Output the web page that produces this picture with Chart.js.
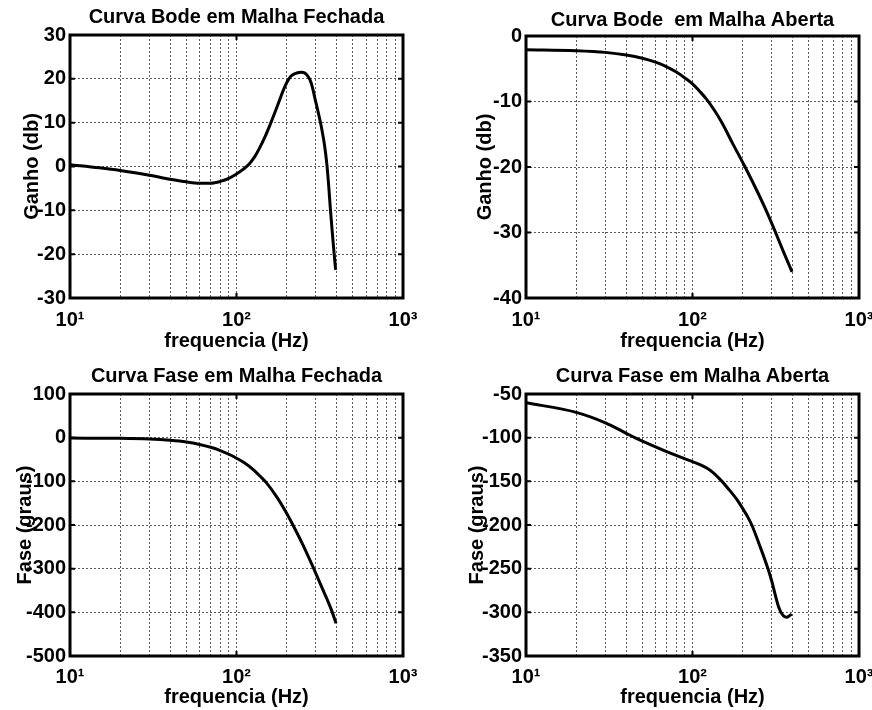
<!DOCTYPE html>
<html>
<head>
<meta charset="utf-8">
<script src="https://cdn.jsdelivr.net/npm/chart.js@4.4.1/dist/chart.umd.min.js"></script>
<style>
  html, body { margin: 0; padding: 0; background: #fff; }
  #wrap { position: relative; width: 872px; height: 710px; overflow: hidden; background: #fff; }
  canvas { position: absolute; }
</style>
</head>
<body>
<div id="wrap">
  <canvas id="ganhoFechada" width="436" height="355" style="left:0;top:0"></canvas>
  <canvas id="ganhoAberta" width="436" height="355" style="left:436px;top:0"></canvas>
  <canvas id="faseFechada" width="436" height="355" style="left:0;top:355px"></canvas>
  <canvas id="faseAberta" width="436" height="355" style="left:436px;top:355px"></canvas>
</div>
<script>
// Frequency grid (Hz) shared by all four plots, and the decade labels
const FREQ_TICKS = [10, 20, 30, 40, 50, 60, 70, 80, 90, 100, 200, 300, 400, 500, 600, 700, 800, 900, 1000];
const DECADE_VALUES = [10, 100, 1000];
const DECADE_TEXT = ['10¹', '10²', '10³'];

// Closed-loop gain (dB)
const FREQ_GANHO_MF = [10, 15, 20, 30, 40, 50, 60, 70, 80, 90, 100, 110, 120, 129, 138, 148, 159, 170, 182, 192, 202, 212, 225, 237, 246, 256, 266, 276, 286, 296, 312, 325, 338, 349, 358, 366, 376, 386, 394];
const GANHO_MF = [0.4, -0.3, -0.9, -2.0, -2.9, -3.5, -3.8, -3.8, -3.4, -2.7, -1.7, -0.6, 0.7, 2.3, 4.3, 6.7, 9.5, 12.3, 15.3, 17.6, 19.4, 20.6, 21.2, 21.45, 21.5, 21.35, 20.8, 19.8, 18.0, 15.5, 11.8, 8.6, 4.8, 0.5, -4.5, -9.5, -15, -20, -23.6];
const TICKS_GANHO_MF = [-30, -20, -10, 0, 10, 20, 30];

// Open-loop gain (dB)
const FREQ_GANHO_MA = [10, 20, 30, 40, 50, 60, 70, 80, 90, 100, 110, 121, 135, 150, 175, 207, 250, 288, 313, 350, 396];
const GANHO_MA = [-2.1, -2.25, -2.5, -2.9, -3.4, -4.0, -4.7, -5.5, -6.4, -7.3, -8.4, -9.6, -11.3, -13.2, -16.5, -20, -24.2, -27.6, -29.8, -32.8, -36];
const TICKS_GANHO_MA = [-40, -30, -20, -10, 0];

// Closed-loop phase (degrees)
const FREQ_FASE_MF = [10, 20, 30, 40, 50, 60, 70, 80, 90, 100, 112, 126, 141, 151, 174, 200, 219, 251, 288, 331, 372, 396];
const FASE_MF = [-1, -1.5, -3, -6, -10, -15.5, -22, -29.5, -38, -47, -58, -73, -91, -103, -135, -173, -201, -246, -296, -349, -395, -425];
const TICKS_FASE_MF = [-500, -400, -300, -200, -100, 0, 100];

// Open-loop phase (degrees)
const FREQ_FASE_MA = [10, 20, 30, 40, 45, 50, 70, 100, 110, 121, 133, 146, 165, 185, 200, 215, 227, 255, 285, 300, 315, 328, 340, 352, 368, 382, 394];
const FASE_MA = [-60, -71, -83, -95, -100, -104, -116, -127.5, -130.5, -134.5, -140, -147.5, -159, -171, -181, -191, -200, -225, -251, -265, -281, -293, -300, -304, -305.5, -304, -302];
const TICKS_FASE_MA = [-350, -300, -250, -200, -150, -100, -50];

const FONT = "'Liberation Sans', Arial, Helvetica, sans-serif";
const GRID_COLOR = '#5c5c5c';

// Axes box and inward major tick marks, MATLAB style
const framePlugin = {
  id: 'frame',
  afterDatasetsDraw(chart) {
    const { ctx, chartArea: a, scales: { x, y } } = chart;
    ctx.save();
    ctx.strokeStyle = '#000';
    ctx.lineWidth = 2;
    ctx.beginPath();
    x.ticks.forEach(t => {
      if (!DECADE_VALUES.includes(t.value)) return;
      const px = x.getPixelForValue(t.value);
      ctx.moveTo(px, a.bottom); ctx.lineTo(px, a.bottom - 5);
      ctx.moveTo(px, a.top); ctx.lineTo(px, a.top + 5);
    });
    y.ticks.forEach(t => {
      const py = y.getPixelForValue(t.value);
      ctx.moveTo(a.left, py); ctx.lineTo(a.left + 5, py);
      ctx.moveTo(a.right, py); ctx.lineTo(a.right - 5, py);
    });
    ctx.stroke();
    ctx.lineWidth = 3;
    ctx.strokeRect(a.left, a.top, a.right - a.left, a.bottom - a.top);
    ctx.restore();
  }
};

function makePlot(id, p) {
  const font = { family: FONT, size: 20, weight: 'bold' };
  return new Chart(document.getElementById(id), {
    type: 'line',
    data: {
      datasets: [{
        data: p.freq.map((f, i) => ({ x: f, y: p.vals[i] })),
        borderColor: '#000',
        borderWidth: 3,
        pointRadius: 0,
        fill: false,
        cubicInterpolationMode: 'monotone'
      }]
    },
    options: {
      responsive: false,
      animation: false,
      devicePixelRatio: 1,
      layout: { padding: { left: 0, right: p.padRight, top: 0, bottom: 0 } },
      plugins: {
        legend: { display: false },
        tooltip: { enabled: false },
        title: {
          display: true,
          text: p.title,
          color: '#000',
          font: font,
          fullSize: false,
          padding: { top: p.titleTop, bottom: p.titleBottom }
        }
      },
      scales: {
        x: {
          type: 'logarithmic',
          min: 10,
          max: 1000,
          afterBuildTicks: s => { s.ticks = FREQ_TICKS.map(v => ({ value: v })); },
          afterFit: s => { s.height = p.xHeight; s.paddingLeft = 0; s.paddingRight = 0; },
          ticks: {
            autoSkip: false,
            maxRotation: 0,
            padding: p.xTickPad,
            color: '#000',
            font: font,
            callback: v => {
              const i = DECADE_VALUES.indexOf(v);
              return i >= 0 ? DECADE_TEXT[i] : '';
            }
          },
          grid: { color: GRID_COLOR, lineWidth: 1, drawTicks: false },
          border: { display: false, dash: [2, 2] },
          title: {
            display: true,
            text: 'frequencia (Hz)',
            color: '#000',
            font: font,
            padding: { top: 0, bottom: p.xTitlePad }
          }
        },
        y: {
          type: 'linear',
          min: p.yTicks[0],
          max: p.yTicks[p.yTicks.length - 1],
          afterBuildTicks: s => { s.ticks = p.yTicks.map(v => ({ value: v })); },
          afterFit: s => { s.width = p.yWidth; },
          ticks: { padding: 4, color: '#000', font: font, callback: v => String(v) },
          grid: { color: GRID_COLOR, lineWidth: 1, drawTicks: false },
          border: { display: false, dash: [2, 2] },
          title: {
            display: true,
            text: p.yLabel,
            color: '#000',
            font: font,
            padding: { top: p.yTitlePad, bottom: 0 }
          }
        }
      }
    },
    plugins: [framePlugin]
  });
}

makePlot('ganhoFechada', {
  title: 'Curva Bode em Malha Fechada', yLabel: 'Ganho (db)',
  freq: FREQ_GANHO_MF, vals: GANHO_MF, yTicks: TICKS_GANHO_MF,
  padRight: 33, yWidth: 70, titleTop: 5.4, titleBottom: 5.6,
  xHeight: 57, xTickPad: 10.4, xTitlePad: 1.9, yTitlePad: 20
});

makePlot('ganhoAberta', {
  title: 'Curva Bode  em Malha Aberta', yLabel: 'Ganho (db)',
  freq: FREQ_GANHO_MA, vals: GANHO_MA, yTicks: TICKS_GANHO_MA,
  padRight: 13, yWidth: 90, titleTop: 8, titleBottom: 4,
  xHeight: 57, xTickPad: 10.4, xTitlePad: 1.9, yTitlePad: 37.4
});

makePlot('faseFechada', {
  title: 'Curva Fase em Malha Fechada', yLabel: 'Fase (graus)',
  freq: FREQ_FASE_MF, vals: FASE_MF, yTicks: TICKS_FASE_MF,
  padRight: 33, yWidth: 70, titleTop: 9, titleBottom: 6,
  xHeight: 54, xTickPad: 9.4, xTitlePad: 1, yTitlePad: 13
});

makePlot('faseAberta', {
  title: 'Curva Fase em Malha Aberta', yLabel: 'Fase (graus)',
  freq: FREQ_FASE_MA, vals: FASE_MA, yTicks: TICKS_FASE_MA,
  padRight: 13, yWidth: 90, titleTop: 9.5, titleBottom: 5.5,
  xHeight: 54, xTickPad: 9.4, xTitlePad: 1, yTitlePad: 29
});
</script>
</body>
</html>
